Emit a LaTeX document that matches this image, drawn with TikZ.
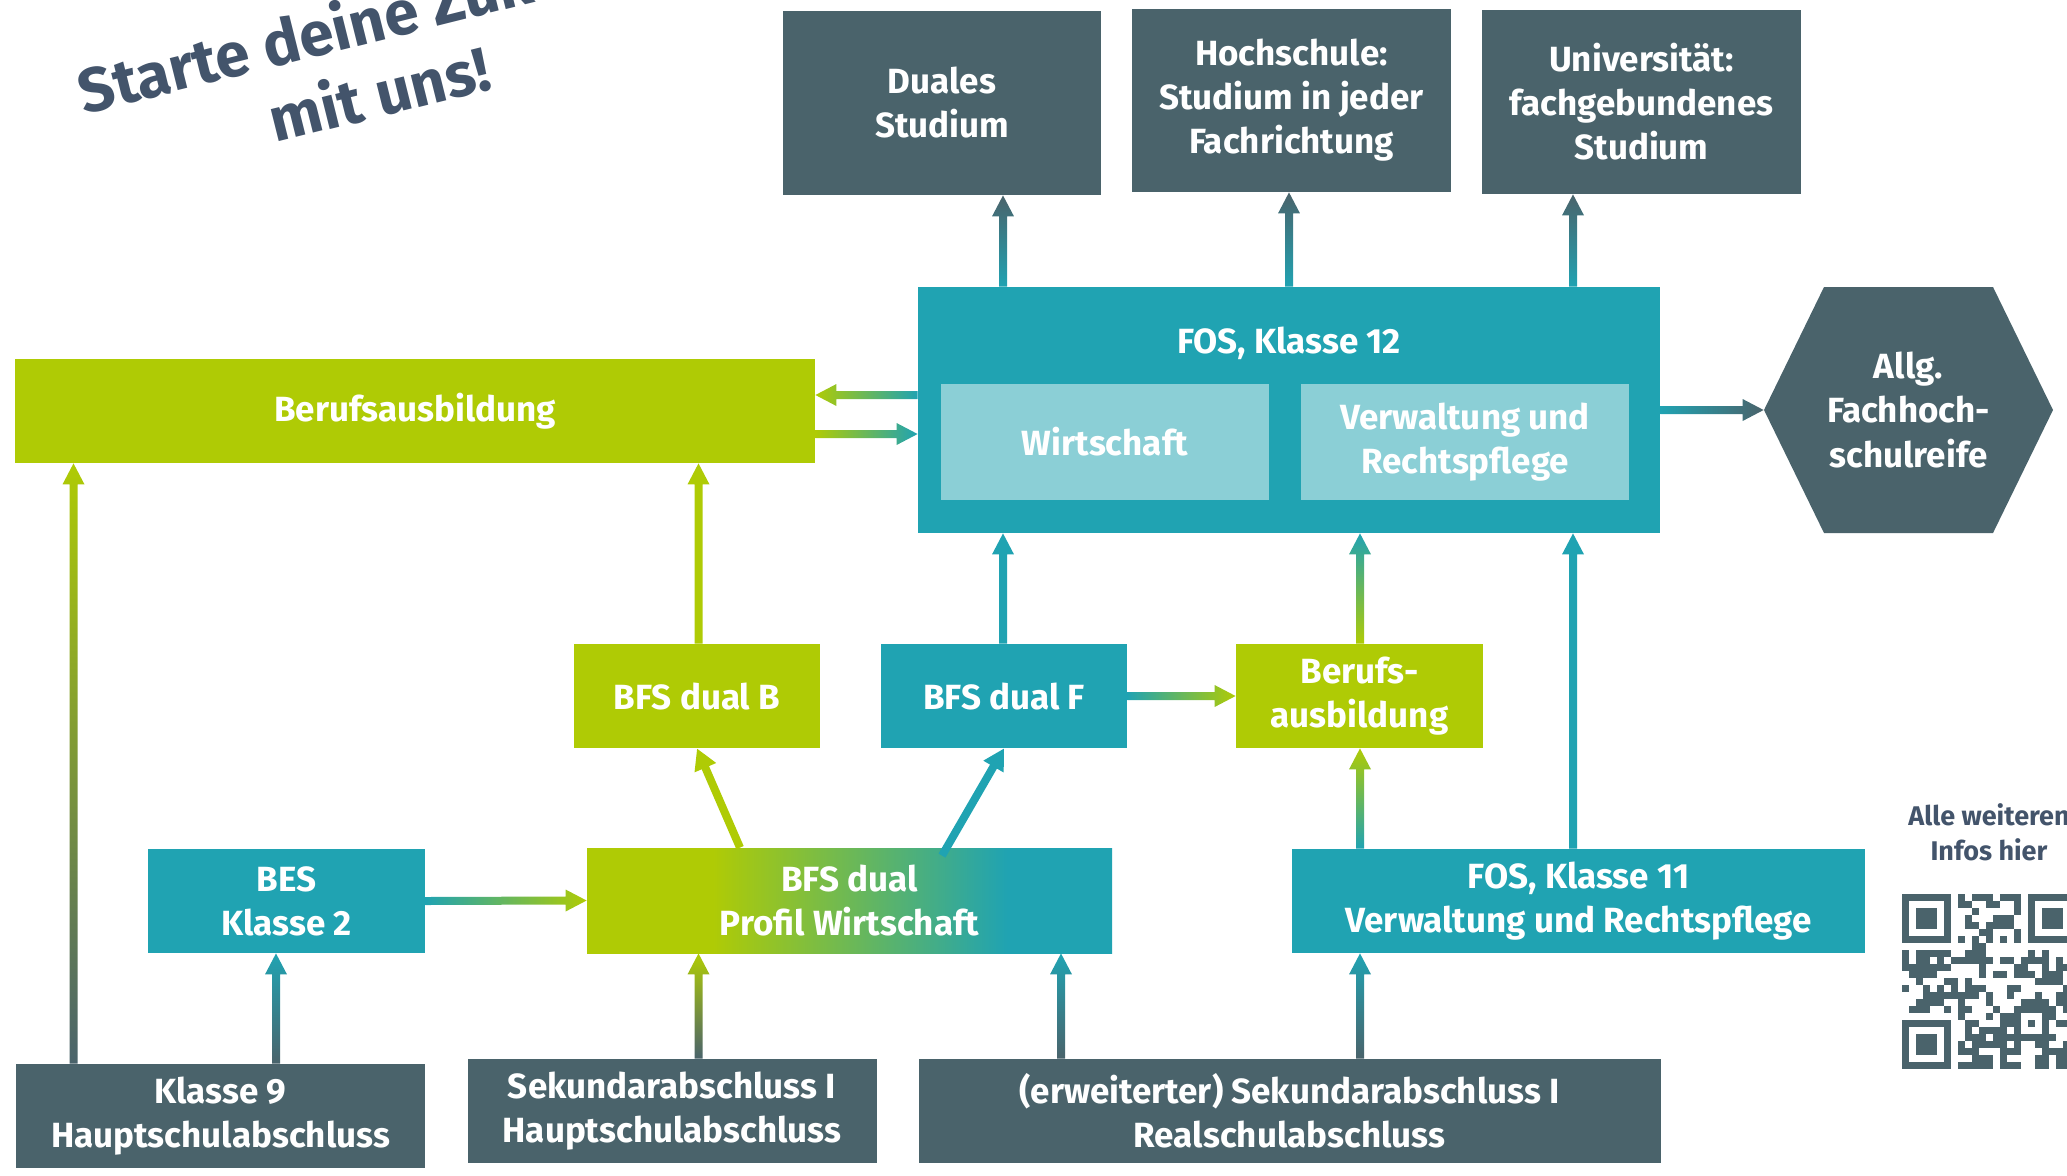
\documentclass[tikz,border=0pt]{standalone}
\usepackage{fontspec}
\setmainfont{Fira Sans}
\usetikzlibrary{calc,arrows.meta}

\definecolor{cslate}{HTML}{4A636B}
\definecolor{cteal}{HTML}{20A3B2}
\definecolor{clime}{HTML}{AFCB05}
\definecolor{clight}{HTML}{8BCFD6}
\definecolor{ctitle}{HTML}{43546B}

\pgfdeclarehorizontalshading{bfsgrad}{100bp}{color(0bp)=(clime); color(37bp)=(clime); color(65bp)=(cteal); color(100bp)=(cteal)}

\newcommand\arrsw{4}
\newcommand\arrhw{11}
\newcommand\arrhl{21}
\newcommand\boxfont{\fontsize{17.5}{22}\selectfont\bfseries}

% gradient arrows: from, to, colour at start, colour at tip
\newcommand\upflow[4]{%
  \shade[bottom color=#3, top color=#4]
    ($(#1)+(-\arrsw,0)$) -- ($(#2)+(-\arrsw,\arrhl)$) -- ($(#2)+(-\arrhw,\arrhl)$) -- (#2)
    -- ($(#2)+(\arrhw,\arrhl)$) -- ($(#2)+(\arrsw,\arrhl)$) -- ($(#1)+(\arrsw,0)$) -- cycle;}
\newcommand\rightflow[4]{%
  \shade[left color=#3, right color=#4]
    ($(#1)+(0,-\arrsw)$) -- ($(#2)+(-\arrhl,-\arrsw)$) -- ($(#2)+(-\arrhl,-\arrhw)$) -- (#2)
    -- ($(#2)+(-\arrhl,\arrhw)$) -- ($(#2)+(-\arrhl,\arrsw)$) -- ($(#1)+(0,\arrsw)$) -- cycle;}
\newcommand\leftflow[4]{%
  \shade[left color=#4, right color=#3]
    ($(#1)+(0,-\arrsw)$) -- ($(#2)+(\arrhl,-\arrsw)$) -- ($(#2)+(\arrhl,-\arrhw)$) -- (#2)
    -- ($(#2)+(\arrhl,\arrhw)$) -- ($(#2)+(\arrhl,\arrsw)$) -- ($(#1)+(0,\arrsw)$) -- cycle;}

\tikzset{
  box/.style={rectangle, inner sep=0pt, align=center, text=white, font=\boxfont},
  slatebox/.style={box, fill=cslate},
  tealbox/.style={box, fill=cteal},
  limebox/.style={box, fill=clime},
  lightbox/.style={box, fill=clight},
  boxsize/.style 2 args={minimum width=#1*0.5pt, minimum height=#2*0.5pt},
  diag/.style={line width=4pt, -{Triangle[width=11pt,length=10.5pt]}},
}

\begin{document}
\begin{tikzpicture}[x=0.5pt, y=-0.5pt]
\path[use as bounding box, clip] (0,0) rectangle (2067,1175);

% title
\node[text=ctitle, font=\fontsize{31}{37}\selectfont\bfseries, align=center, rotate=14]
  (title) at (370,56) {Starte deine Zukunft\\mit uns!};

% top row
\node[slatebox, boxsize={318}{184}] (duales) at (942,103) {Duales\\Studium};
\node[slatebox, boxsize={319}{183}] (hoch) at (1291.5,100.5) {Hochschule:\\Studium in jeder\\Fachrichtung};
\node[slatebox, boxsize={319}{184}] (uni) at (1641.5,102) {Universität:\\fachgebundenes\\Studium};

% FOS 12
\node[tealbox, boxsize={742}{246}] (fos12) at (1289,410) {};
\node[box] (fos12t) at (1289,343) {FOS, Klasse 12};
\node[lightbox, boxsize={328}{116}] (wirt) at (1105,442) {Wirtschaft};
\node[lightbox, boxsize={328}{116}] (verw) at (1465,442) {Verwaltung und\\Rechtspflege};

\fill[cslate] (1824,287) -- (1993,287) -- (2053,410) -- (1993,533) -- (1824,533) -- (1764,410) -- cycle;
\node[box, boxsize={289}{246}] (hex) at (1908.5,410) {Allg.\\Fachhoch-\\schulreife};

\node[limebox, boxsize={800}{104}] (beruf) at (415,411) {Berufsausbildung};

% middle row
\node[limebox, boxsize={246}{104}] (bfsb) at (697,696) {BFS dual B};
\node[tealbox, boxsize={246}{104}] (bfsf) at (1004,696) {BFS dual F};
\node[limebox, boxsize={247}{104}] (berufk) at (1359.5,696) {Berufs-\\ausbildung};

\node[tealbox, boxsize={277}{104}] (bes) at (286.5,901) {BES\\Klasse 2};
\node[box, shade, shading=bfsgrad, boxsize={525}{105}] (bfsp) at (849.5,900.5) {BFS dual\\Profil Wirtschaft};
\node[tealbox, boxsize={573}{104}] (fos11) at (1578.5,901) {FOS, Klasse 11\\Verwaltung und Rechtspflege};

% bottom row
\node[slatebox, boxsize={409}{104}] (k9) at (220.5,1116) {Klasse 9\\Hauptschulabschluss};
\node[slatebox, boxsize={409}{104}] (sekh) at (672,1111) {Sekundarabschluss I\\Hauptschulabschluss};
\node[slatebox, boxsize={742}{104}] (erw) at (1289.5,1111) {(erweiterter) Sekundarabschluss I\\Realschulabschluss};

% info + qr
\node[text=ctitle, font=\fontsize{13.5}{17.5}\selectfont\bfseries, align=center] (info) at (1989,832) {Alle weiteren\\Infos hier};
\pgfmathsetseed{42}
\foreach \i in {0,...,24}{
  \foreach \j in {0,...,24}{
    \pgfmathtruncatemacro\qrfree{(\i<8 && \j<8) || (\i>16 && \j<8) || (\i<8 && \j>16) || (\i>15 && \i<21 && \j>15 && \j<21)}
    \ifnum\qrfree=0
      \pgfmathtruncatemacro\qron{(\i==6 || \j==6) ? (mod(\i+\j,2)==0) : (rnd<0.5)}
      \ifnum\qron=1 \fill[cslate] (1902+7*\i,894+7*\j) rectangle ++(7,7); \fi
    \fi
  }
}
\foreach \fx/\fy in {0/0, 18/0, 0/18}{
  \fill[cslate] (1902+7*\fx,894+7*\fy) rectangle ++(49,49);
  \fill[white] (1909+7*\fx,901+7*\fy) rectangle ++(35,35);
  \fill[cslate] (1916+7*\fx,908+7*\fy) rectangle ++(21,21);
}
\fill[cslate] (2014,1006) rectangle ++(35,35);
\fill[white] (2021,1013) rectangle ++(21,21);
\fill[cslate] (2028,1020) rectangle ++(7,7);

% lanes for the connectors
\coordinate (lA) at (73.5,0);
\coordinate (lE) at (276,0);
\coordinate (lB) at (698.5,0);
\coordinate (lDb) at (740,0);
\coordinate (lD) at (942,0);
\coordinate (lF) at (1003,0);
\coordinate (lP) at (1061,0);
\coordinate (lH) at (1289,0);
\coordinate (lK) at (1360,0);
\coordinate (lU) at (1573,0);
\coordinate (rL) at (0,395);
\coordinate (rR) at (0,434);

\upflow{k9.north -| lA}{beruf.south -| lA}{cslate}{clime}
\upflow{k9.north -| lE}{bes.south -| lE}{cslate}{cteal}
\upflow{sekh.north -| lB}{bfsp.south -| lB}{cslate}{clime}
\upflow{erw.north -| lP}{bfsp.south -| lP}{cslate}{cteal}
\upflow{erw.north -| lK}{fos11.south -| lK}{cslate}{cteal}
\rightflow{bes.east}{bfsp.west}{cteal}{clime}
\upflow{bfsb.north -| lB}{beruf.south -| lB}{clime}{clime}
\upflow{bfsf.north -| lF}{fos12.south -| lF}{cteal}{cteal}
\rightflow{bfsf.east}{berufk.west}{cteal}{clime}
\upflow{berufk.north -| lK}{fos12.south -| lK}{clime}{cteal}
\upflow{fos11.north -| lK}{berufk.south -| lK}{cteal}{clime}
\upflow{fos11.north -| lU}{fos12.south -| lU}{cteal}{cteal}
\upflow{fos12.north -| lF}{duales.south -| lF}{cteal}{cslate}
\upflow{fos12.north -| lH}{hoch.south -| lH}{cteal}{cslate}
\upflow{fos12.north -| lU}{uni.south -| lU}{cteal}{cslate}
\rightflow{fos12.east}{hex.west}{cteal}{cslate}
\leftflow{fos12.west |- rL}{beruf.east |- rL}{cteal}{clime}
\rightflow{beruf.east |- rR}{fos12.west |- rR}{clime}{cteal}
\draw[diag, clime] (bfsp.north -| lDb) -- (bfsb.south);
\draw[diag, cteal] ($(bfsp.north -| lD)+(0,8)$) -- (bfsf.south);
\end{tikzpicture}
\end{document}
